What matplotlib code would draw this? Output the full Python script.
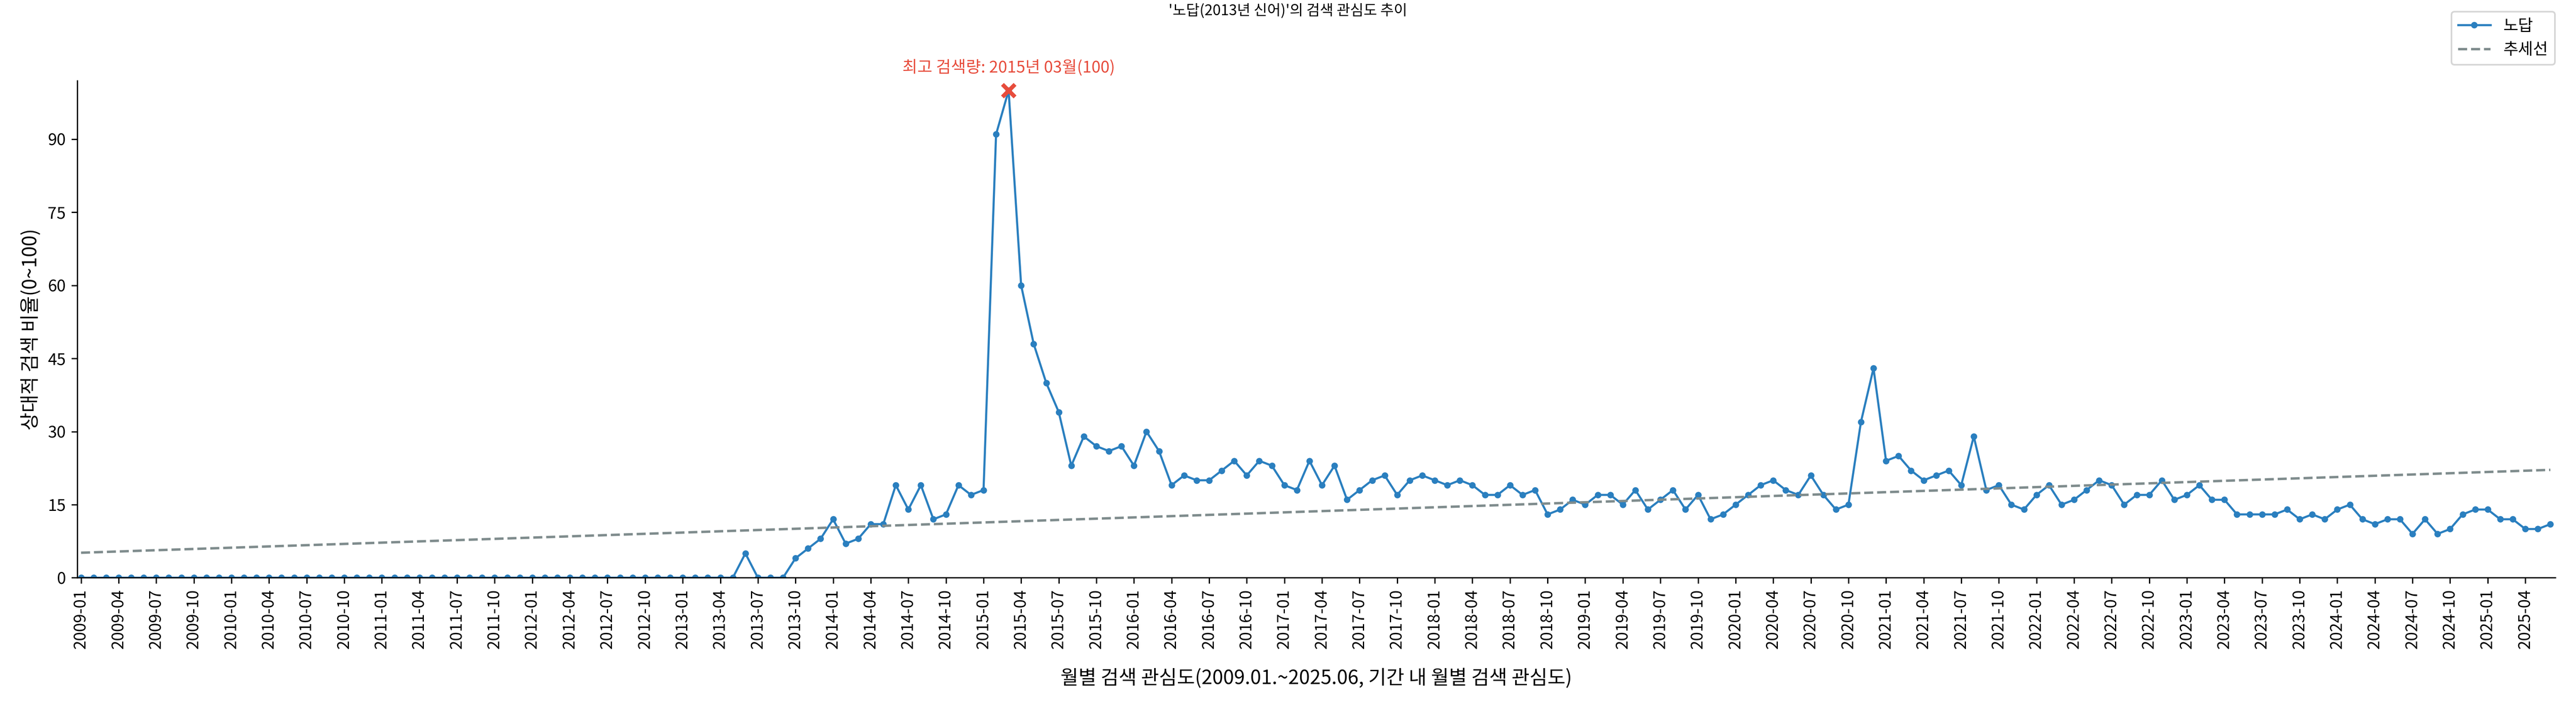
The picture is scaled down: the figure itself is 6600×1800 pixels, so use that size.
import numpy as np
import pandas as pd
import matplotlib.pyplot as plt

plt.rcParams['font.family'] = ['Noto Sans CJK KR', 'DejaVu Sans']
plt.rcParams['axes.unicode_minus'] = False

months = pd.date_range('2009-01-01', '2025-06-01', freq='MS').strftime('%Y-%m').tolist()

zeros_until_2013_05 = [0] * 53
values_2013_06 = [5, 0, 0, 0, 4, 6, 8]
values_2014 = [12, 7, 8, 11, 11, 19, 14, 19, 12, 13, 19, 17]
values_2015 = [18, 91, 100, 60, 48, 40, 34, 23, 29, 27, 26, 27]
values_2016 = [23, 30, 26, 19, 21, 20, 20, 22, 24, 21, 24, 23]
values_2017 = [19, 18, 24, 19, 23, 16, 18, 20, 21, 17, 20, 21]
values_2018 = [20, 19, 20, 19, 17, 17, 19, 17, 18, 13, 14, 16]
values_2019 = [15, 17, 17, 15, 18, 14, 16, 18, 14, 17, 12, 13]
values_2020 = [15, 17, 19, 20, 18, 17, 21, 17, 14, 15, 32, 43]
values_2021 = [24, 25, 22, 20, 21, 22, 19, 29, 18, 19, 15, 14]
values_2022 = [17, 19, 15, 16, 18, 20, 19, 15, 17, 17, 20, 16]
values_2023 = [17, 19, 16, 16, 13, 13, 13, 13, 14, 12, 13, 12]
values_2024 = [14, 15, 12, 11, 12, 12, 9, 12, 9, 10, 13, 14]
values_2025 = [14, 12, 12, 10, 10, 11]

values = (zeros_until_2013_05 + values_2013_06 + values_2014 + values_2015 + values_2016
          + values_2017 + values_2018 + values_2019 + values_2020 + values_2021
          + values_2022 + values_2023 + values_2024 + values_2025)

x = np.arange(len(months))
y = np.array(values)
coef = np.polyfit(x, y, 1)
trend = np.polyval(coef, x)

fig, ax = plt.subplots(figsize=(22, 6), dpi=300)
fig.subplots_adjust(left=0.03, right=0.992, top=0.885, bottom=0.177)

ax.plot(x, y, color='#2a7fbf', marker='o', markersize=3, linewidth=1.3, label='노답')
ax.plot(x, trend, color='#7f8c8d', linestyle='--', linewidth=1.5, label='추세선')

peak = int(np.argmax(y))
ax.scatter([peak], [y[peak]], marker='x', color='#e74c3c', s=60, linewidths=2.5, zorder=5)
ax.text(peak, y[peak] + 3, f'최고 검색량: {months[peak][:4]}년 {months[peak][5:]}월({y[peak]})',
        color='#e74c3c', fontsize=10, ha='center', va='bottom')

ax.set_xticks(x[::3])
ax.set_xticklabels(months[::3], rotation=90, fontsize=10)
ax.set_yticks(range(0, 91, 15))
ax.tick_params(axis='y', labelsize=10)
ax.set_xlim(-0.3, len(x) - 0.6)
ax.set_ylim(0, 102)
ax.spines['top'].set_visible(False)
ax.spines['right'].set_visible(False)

ax.set_xlabel('월별 검색 관심도(2009.01.~2025.06, 기간 내 월별 검색 관심도)', fontsize=12, labelpad=12)
ax.set_ylabel('상대적 검색 비율(0~100)', fontsize=12)
fig.suptitle("'노답(2013년 신어)'의 검색 관심도 추이", fontsize=9, y=0.995)
fig.legend(loc='upper right', bbox_to_anchor=(0.995, 0.995), fontsize=10)

fig.savefig('out.png')
